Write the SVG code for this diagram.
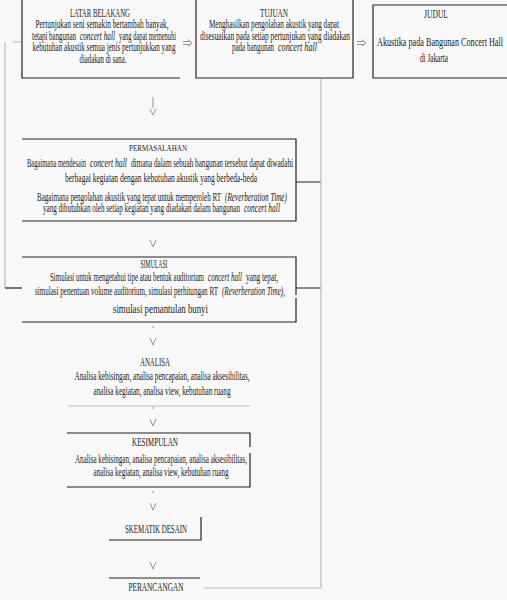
<svg xmlns="http://www.w3.org/2000/svg" width="507" height="600" viewBox="0 0 507 600">
<style>
.t{font-family:"Liberation Serif","Times New Roman",serif;font-size:7px;fill:#222;text-anchor:middle}
.l{text-anchor:start}
.s{font-size:5px}
.i{font-style:italic}
.b{stroke:#222;stroke-width:1.2;fill:none}
.g{stroke:#bbb;stroke-width:1.2;fill:none}
.a{stroke:#888;stroke-width:0.9;fill:none}
</style>
<rect width="507" height="600" fill="#f8f8f8"/>
<g id="connectors">
<path class="g" d="M13 42H22M5 42V288"/>
<path class="b" d="M5 288H22"/>
<path class="b" d="M296 182H321M296 288H321"/>
<path class="g" d="M321 79V588H204"/>
<path class="a" d="M183 41.5H190M183 44.5H190M188 39.5L192 43L188 46.5"/>
<path class="a" d="M357 41.5H364M357 44.5H364M362 39.5L366 43L362 46.5"/>
<path class="a" d="M153 97V108M150 109L153 115L156 109"/>
<path class="a" d="M150 240L153 247L156 240"/>
<path class="a" d="M152 327H154M150 338L153 345L156 338"/>
<path class="a" d="M152 408H154M150 419L153 426L156 419"/>
<path class="a" d="M152 492H154M150 503L153 510L156 503"/>
<path class="a" d="M150 562L153 569L156 562"/>
</g>
<g id="latar-belakang">
<path class="b" d="M22 0V78H180"/>
<text class="t" transform="translate(0,17) scale(1,1.7)" x="100" textLength="60" lengthAdjust="spacingAndGlyphs">LATAR BELAKANG</text>
<text class="t" transform="translate(0,28) scale(1,1.7)" x="102" textLength="133" lengthAdjust="spacingAndGlyphs">Pertunjukan seni semakin bertambah banyak,</text>
<text class="t l" transform="translate(0,40) scale(1,1.7)" x="32" textLength="44" lengthAdjust="spacingAndGlyphs">tetapi bangunan</text>
<text class="t l i" transform="translate(0,40) scale(1,1.7)" x="80" textLength="35" lengthAdjust="spacingAndGlyphs">concert hall</text>
<text class="t l" transform="translate(0,40) scale(1,1.7)" x="119" textLength="57" lengthAdjust="spacingAndGlyphs">yang dapat memenuhi</text>
<text class="t" transform="translate(0,51) scale(1,1.7)" x="104" textLength="143" lengthAdjust="spacingAndGlyphs">kebutuhan akustik semua jenis pertunjukkan yang</text>
<text class="t" transform="translate(0,63) scale(1,1.7)" x="103" textLength="47" lengthAdjust="spacingAndGlyphs">diadakan di sana.</text>
</g>
<g id="tujuan">
<path class="b" d="M196 0V78H353V0"/>
<text class="t" transform="translate(0,17) scale(1,1.7)" x="274" textLength="28" lengthAdjust="spacingAndGlyphs">TUJUAN</text>
<text class="t" transform="translate(0,28) scale(1,1.7)" x="274" textLength="130" lengthAdjust="spacingAndGlyphs">Menghasilkan pengolahan akustik yang dapat</text>
<text class="t" transform="translate(0,40) scale(1,1.7)" x="275" textLength="150" lengthAdjust="spacingAndGlyphs">disesuaikan pada setiap pertunjukan yang diadakan</text>
<text class="t l" transform="translate(0,51) scale(1,1.7)" x="232" textLength="42" lengthAdjust="spacingAndGlyphs">pada bangunan</text>
<text class="t l i" transform="translate(0,51) scale(1,1.7)" x="278" textLength="39" lengthAdjust="spacingAndGlyphs">concert hall</text>
</g>
<g id="judul">
<path class="b" d="M507 5H373V78H507"/>
<text class="t" transform="translate(0,18) scale(1,1.7)" x="436" textLength="24" lengthAdjust="spacingAndGlyphs">JUDUL</text>
<text class="t" transform="translate(0,46) scale(1,1.7)" x="440" textLength="126" lengthAdjust="spacingAndGlyphs">Akustika pada Bangunan Concert Hall</text>
<text class="t" transform="translate(0,62) scale(1,1.7)" x="434" textLength="28" lengthAdjust="spacingAndGlyphs">di Jakarta</text>
</g>
<g id="permasalahan">
<path class="b" d="M22 139H296V221H22"/>
<text class="t s" transform="translate(0,151) scale(1,1.7)" x="158" textLength="58" lengthAdjust="spacingAndGlyphs">PERMASALAHAN</text>
<text class="t l" transform="translate(0,167) scale(1,1.7)" x="27" textLength="59" lengthAdjust="spacingAndGlyphs">Bagaimana mendesain</text>
<text class="t l i" transform="translate(0,167) scale(1,1.7)" x="90" textLength="37" lengthAdjust="spacingAndGlyphs">concert hall</text>
<text class="t l" transform="translate(0,167) scale(1,1.7)" x="131" textLength="162" lengthAdjust="spacingAndGlyphs">dimana dalam sebuah bangunan tersebut dapat diwadahi</text>
<text class="t" transform="translate(0,182) scale(1,1.7)" x="161" textLength="192" lengthAdjust="spacingAndGlyphs">berbagai kegiatan dengan kebutuhan akustik yang berbeda-beda</text>
<text class="t l" transform="translate(0,201) scale(1,1.7)" x="37" textLength="184" lengthAdjust="spacingAndGlyphs">Bagaimana pengolahan akustik yang tepat untuk memperoleh RT</text>
<text class="t l i" transform="translate(0,201) scale(1,1.7)" x="225" textLength="62" lengthAdjust="spacingAndGlyphs">(Reverberation Time)</text>
<text class="t l" transform="translate(0,212) scale(1,1.7)" x="43" textLength="197" lengthAdjust="spacingAndGlyphs">yang dibutuhkan oleh setiap kegiatan yang diadakan dalam bangunan</text>
<text class="t l i" transform="translate(0,212) scale(1,1.7)" x="244" textLength="36" lengthAdjust="spacingAndGlyphs">concert hall</text>
</g>
<g id="simulasi">
<path class="b" d="M22 257H296V295M296 298V322H22"/>
<text class="t" transform="translate(0,268) scale(1,1.7)" x="154" textLength="27" lengthAdjust="spacingAndGlyphs">SIMULASI</text>
<text class="t l" transform="translate(0,281) scale(1,1.7)" x="50" textLength="154" lengthAdjust="spacingAndGlyphs">Simulasi untuk mengetahui tipe atau bentuk auditorium</text>
<text class="t l i" transform="translate(0,281) scale(1,1.7)" x="208" textLength="34" lengthAdjust="spacingAndGlyphs">concert hall</text>
<text class="t l" transform="translate(0,281) scale(1,1.7)" x="246" textLength="32" lengthAdjust="spacingAndGlyphs">yang tepat,</text>
<text class="t l" transform="translate(0,295) scale(1,1.7)" x="35" textLength="183" lengthAdjust="spacingAndGlyphs">simulasi penentuan volume auditorium, simulasi perhitungan RT</text>
<text class="t l i" transform="translate(0,295) scale(1,1.7)" x="222" textLength="63" lengthAdjust="spacingAndGlyphs">(Reverberation Time),</text>
<text class="t l" transform="translate(0,313) scale(1,1.7)" x="113" textLength="95" lengthAdjust="spacingAndGlyphs">simulasi pemantulan bunyi</text>
</g>
<g id="analisa">
<path class="g" d="M68 406H250"/>
<text class="t" transform="translate(0,366) scale(1,1.7)" x="155" textLength="30" lengthAdjust="spacingAndGlyphs">ANALISA</text>
<text class="t" transform="translate(0,380) scale(1,1.7)" x="162" textLength="175" lengthAdjust="spacingAndGlyphs">Analisa kebisingan, analisa pencapaian, analisa aksesibilitas,</text>
<text class="t" transform="translate(0,395) scale(1,1.7)" x="162" textLength="137" lengthAdjust="spacingAndGlyphs">analisa kegiatan, analisa view, kebutuhan ruang</text>
</g>
<g id="kesimpulan">
<path class="b" d="M67 433H250V447M250 453V487H67"/>
<text class="t" transform="translate(0,446) scale(1,1.7)" x="155" textLength="46" lengthAdjust="spacingAndGlyphs">KESIMPULAN</text>
<text class="t" transform="translate(0,463) scale(1,1.7)" x="161" textLength="172" lengthAdjust="spacingAndGlyphs">Analisa kebisingan, analisa pencapaian, analisa aksesibilitas,</text>
<text class="t" transform="translate(0,476) scale(1,1.7)" x="161" textLength="135" lengthAdjust="spacingAndGlyphs">analisa kegiatan, analisa view, kebutuhan ruang</text>
</g>
<g id="skematik-desain">
<path class="b" d="M201 517V540H109"/>
<text class="t" transform="translate(0,533) scale(1,1.7)" x="156" textLength="62" lengthAdjust="spacingAndGlyphs">SKEMATIK DESAIN</text>
</g>
<g id="perancangan">
<path class="b" d="M109 578H200"/>
<text class="t" transform="translate(0,591) scale(1,1.7)" x="156" textLength="55" lengthAdjust="spacingAndGlyphs">PERANCANGAN</text>
</g>
</svg>
